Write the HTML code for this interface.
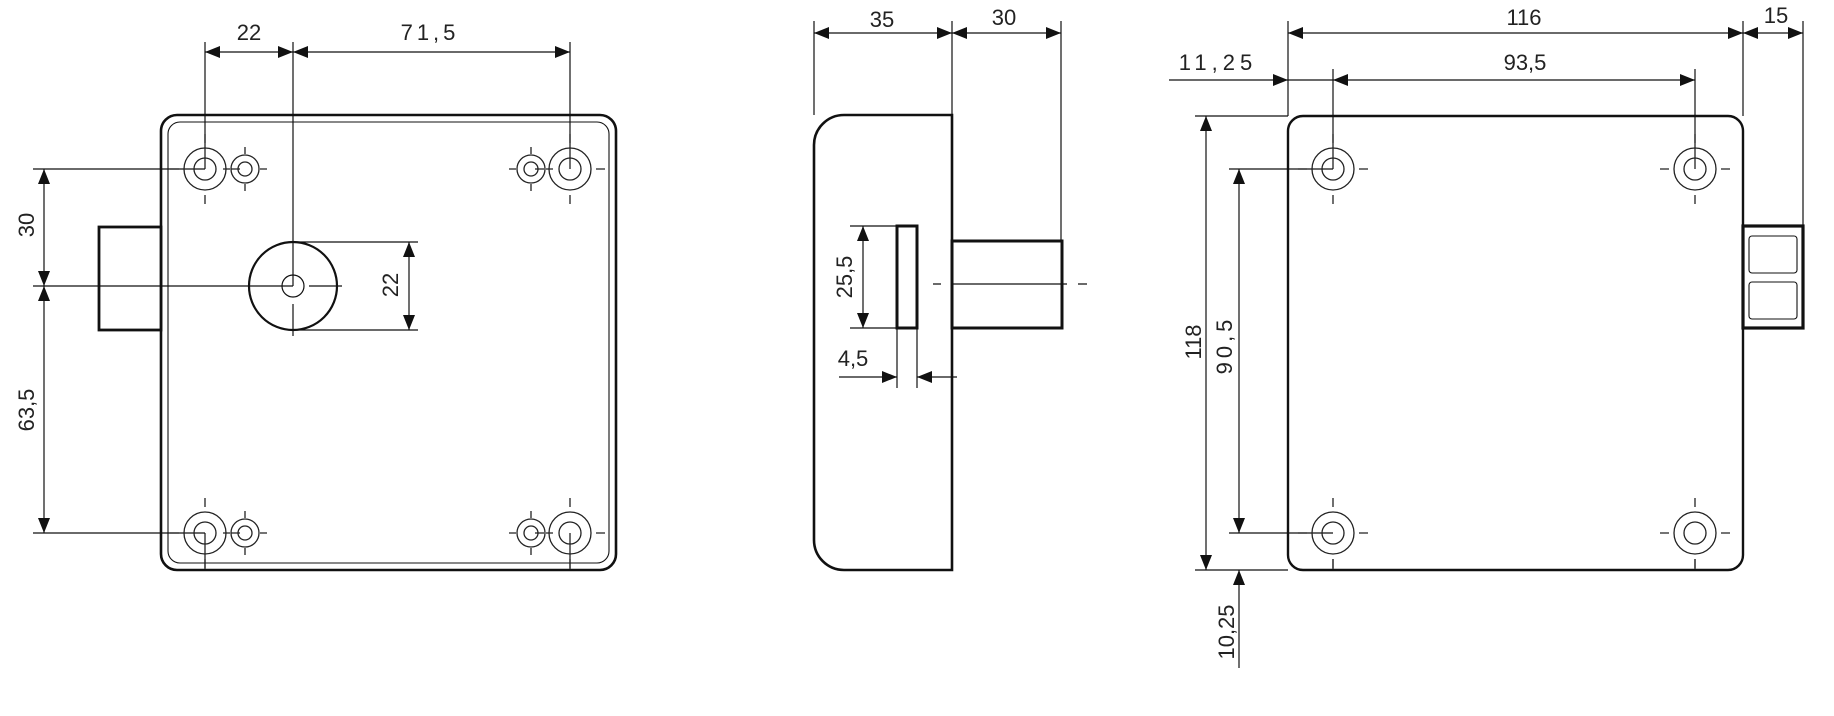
<!DOCTYPE html>
<html><head><meta charset="utf-8"><style>
html,body{margin:0;padding:0;background:#fff}
svg{display:block}
text{font-family:"Liberation Sans",Arial,sans-serif;font-size:22px;fill:#222}
</style></head><body>
<svg width="1834" height="716" viewBox="0 0 1834 716" xmlns="http://www.w3.org/2000/svg">
<defs>
<marker id="a" markerUnits="userSpaceOnUse" markerWidth="16" markerHeight="12" refX="15" refY="6" orient="auto-start-reverse"><path d="M0,0 L15,6 L0,12 Z" fill="#111"/></marker>
<g id="big" fill="none" stroke="#222" stroke-width="1.3">
<circle r="21"/><circle r="11"/>
<path d="M0,-26V-35M0,26V35M-26,0H-35M26,0H35"/>
</g>
<g id="sm" fill="none" stroke="#222" stroke-width="1.3">
<circle r="14"/><circle r="7"/>
<path d="M0,-15V-22M0,15V22M-15,0H-22M15,0H22"/>
</g>
</defs>
<g stroke="#111" fill="none">
<rect x="161" y="115" width="455" height="455" rx="16" stroke-width="2.6"/>
<rect x="168" y="122" width="441" height="441" rx="12" stroke-width="1.1"/>
<rect x="99" y="227" width="62" height="103" stroke-width="2.8" fill="#fff"/>
<circle cx="293" cy="286" r="44" stroke-width="2.2"/>
<circle cx="293" cy="286" r="11" stroke-width="1.2"/>
<g stroke-width="1.2">
<path d="M205,42V169M293,42V286M570,42V169"/>
<path d="M33,169H205M33,286H293M309,286H342M293,304V336M33,533H205"/>
<path d="M293,242H418M293,330H418"/>
<path d="M205,533V570M570,533V570"/>
<line x1="205" y1="52" x2="293" y2="52" marker-start="url(#a)" marker-end="url(#a)"/>
<line x1="293" y1="52" x2="570" y2="52" marker-start="url(#a)" marker-end="url(#a)"/>
<line x1="44" y1="169" x2="44" y2="286" marker-start="url(#a)" marker-end="url(#a)"/>
<line x1="44" y1="286" x2="44" y2="533" marker-start="url(#a)" marker-end="url(#a)"/>
<line x1="409" y1="242" x2="409" y2="330" marker-start="url(#a)" marker-end="url(#a)"/>
</g>
<path d="M952,115H844A30,30 0 0 0 814,145V540A30,30 0 0 0 844,570H952Z" stroke-width="2.6"/>
<rect x="897" y="226" width="20" height="102" stroke-width="3"/>
<rect x="952" y="241" width="110" height="87" stroke-width="3"/>
<g stroke-width="1.2">
<path d="M814,21V115M952,21V115M1061,21V241"/>
<path d="M933,284H941M952,284H1067M1078,284H1087"/>
<path d="M850,226H897M850,328H897M897,328V388M917,328V388"/>
<line x1="814" y1="33" x2="952" y2="33" marker-start="url(#a)" marker-end="url(#a)"/>
<line x1="952" y1="33" x2="1061" y2="33" marker-start="url(#a)" marker-end="url(#a)"/>
<line x1="863" y1="226" x2="863" y2="328" marker-start="url(#a)" marker-end="url(#a)"/>
<line x1="839" y1="377" x2="897" y2="377" marker-end="url(#a)"/>
<line x1="957" y1="377" x2="917" y2="377" marker-end="url(#a)"/>
</g>
<rect x="1288" y="116" width="455" height="454" rx="15" stroke-width="2.4"/>
<rect x="1743" y="226" width="60" height="102" stroke-width="3.2" fill="#fff"/>
<rect x="1749" y="236" width="48" height="37" rx="3" stroke-width="1.1"/>
<rect x="1749" y="282" width="48" height="37" rx="3" stroke-width="1.1"/>
<g stroke-width="1.2">
<path d="M1288,21V116M1743,21V116M1803,21V226"/>
<path d="M1333,69V169M1695,69V169"/>
<path d="M1195,116H1288M1229,169H1333M1229,533H1333M1195,570H1288"/>
<path d="M1333,559V570M1695,559V570"/>
<line x1="1288" y1="33" x2="1743" y2="33" marker-start="url(#a)" marker-end="url(#a)"/>
<line x1="1743" y1="33" x2="1803" y2="33" marker-start="url(#a)" marker-end="url(#a)"/>
<line x1="1169" y1="80" x2="1288" y2="80" marker-end="url(#a)"/>
<line x1="1288" y1="80" x2="1333" y2="80"/>
<line x1="1333" y1="80" x2="1695" y2="80" marker-start="url(#a)" marker-end="url(#a)"/>
<line x1="1206" y1="116" x2="1206" y2="570" marker-start="url(#a)" marker-end="url(#a)"/>
<line x1="1239" y1="169" x2="1239" y2="533" marker-start="url(#a)" marker-end="url(#a)"/>
<line x1="1239" y1="668" x2="1239" y2="570" marker-end="url(#a)"/>
</g>
</g>
<use href="#big" x="205" y="169"/><use href="#sm" x="245" y="169"/>
<use href="#big" x="570" y="169"/><use href="#sm" x="531" y="169"/>
<use href="#big" x="205" y="533"/><use href="#sm" x="245" y="533"/>
<use href="#big" x="570" y="533"/><use href="#sm" x="531" y="533"/>
<use href="#big" x="1333" y="169"/><use href="#big" x="1695" y="169"/>
<use href="#big" x="1333" y="533"/><use href="#big" x="1695" y="533"/>
<g text-anchor="middle">
<text x="249" y="40">22</text>
<text x="430" y="40" letter-spacing="4">71,5</text>
<text transform="translate(34,225) rotate(-90)">30</text>
<text transform="translate(34,410) rotate(-90)">63,5</text>
<text transform="translate(398,285) rotate(-90)">22</text>
<text x="882" y="27">35</text>
<text x="1004" y="25">30</text>
<text transform="translate(852,277) rotate(-90)">25,5</text>
<text x="853" y="366">4,5</text>
<text x="1524" y="25">116</text>
<text x="1218" y="70" letter-spacing="5">11,25</text>
<text x="1525" y="70">93,5</text>
<text x="1776" y="23">15</text>
<text transform="translate(1201,342) rotate(-90)">118</text>
<text transform="translate(1232,345) rotate(-90)" letter-spacing="4">90,5</text>
<text transform="translate(1234,632) rotate(-90)">10,25</text>
</g>
</svg>
</body></html>
